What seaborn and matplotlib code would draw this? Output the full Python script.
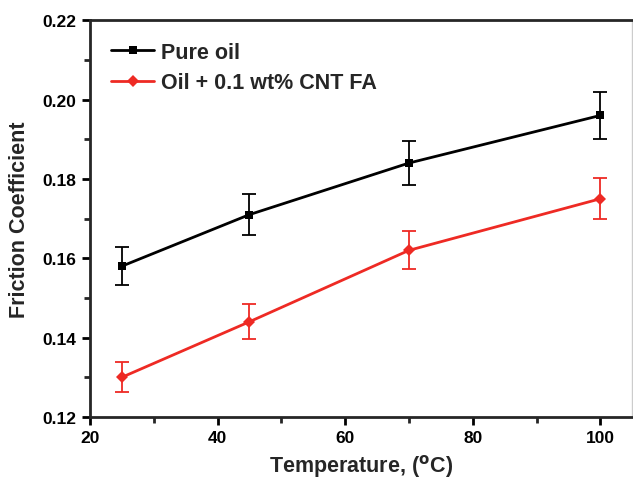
import seaborn as sns
import matplotlib.pyplot as plt
import pandas as pd

temperature = [25, 45, 70, 100]
pure_oil = [0.158, 0.171, 0.184, 0.196]
pure_oil_err = [0.0048, 0.0052, 0.0055, 0.0060]
cnt_oil = [0.130, 0.144, 0.162, 0.175]
cnt_oil_err = [0.0038, 0.0044, 0.0048, 0.0052]
series_names = ['Pure oil', 'Oil + 0.1 wt% CNT FA']
colors = ['black', '#ee2a24']

df = pd.DataFrame({
    'Temperature': temperature * 2,
    'Friction': pure_oil + cnt_oil,
    'err': pure_oil_err + cnt_oil_err,
    'Series': [series_names[0]] * 4 + [series_names[1]] * 4,
})

sns.set_style('ticks')
plt.rcParams['font.family'] = ['Liberation Sans', 'DejaVu Sans']
plt.rcParams['font.weight'] = 'bold'

fig = plt.figure(figsize=(6.33, 4.81), dpi=100)
ax = fig.add_axes([0.142, 0.131, 0.857, 0.825])

sns.lineplot(data=df, x='Temperature', y='Friction', hue='Series', style='Series',
             palette=colors, markers=['s', 'D'], dashes=False, markersize=6,
             markeredgewidth=0, linewidth=2, ax=ax)

# error bars
for name, c in zip(series_names, colors):
    sub = df[df['Series'] == name]
    ax.errorbar(sub['Temperature'], sub['Friction'], yerr=sub['err'], fmt='none',
                ecolor=c, elinewidth=1.3, capsize=5, capthick=1.3)

ax.set_xlim(20, 105)
ax.set_ylim(0.12, 0.22)
ax.set_xticks([20, 40, 60, 80, 100])
ax.set_xticks([30, 50, 70, 90], minor=True)
ax.set_yticks([0.12, 0.14, 0.16, 0.18, 0.20, 0.22])
ax.set_yticks([0.13, 0.15, 0.17, 0.19, 0.21], minor=True)
ax.set_yticklabels(['0.12', '0.14', '0.16', '0.18', '0.20', '0.22'])
ax.tick_params(axis='both', which='major', direction='out', length=6, width=2,
               labelsize=12.5, colors='black')
ax.tick_params(axis='both', which='minor', direction='out', length=4, width=2)
for side in ['left', 'bottom', 'top']:
    ax.spines[side].set_linewidth(2)
    ax.spines[side].set_visible(True)
ax.spines['right'].set_visible(True)
ax.spines['right'].set_linewidth(1)
ax.spines['right'].set_color('#cccccc')

ax.set_xlabel('Temperature, ($^{\\mathrm{o}}$C)', fontsize=15.5, fontweight='bold', labelpad=5)
ax.set_ylabel('Friction Coefficient', fontsize=15.5, fontweight='bold', labelpad=9)

leg = ax.legend(loc='upper left', frameon=False, fontsize=15.5, handlelength=2.0,
                borderaxespad=0.5, labelspacing=0.45, handletextpad=0.3,
                borderpad=0.5)
for t in leg.get_texts():
    t.set_fontweight('bold')

fig.savefig('out.png', dpi=100)
